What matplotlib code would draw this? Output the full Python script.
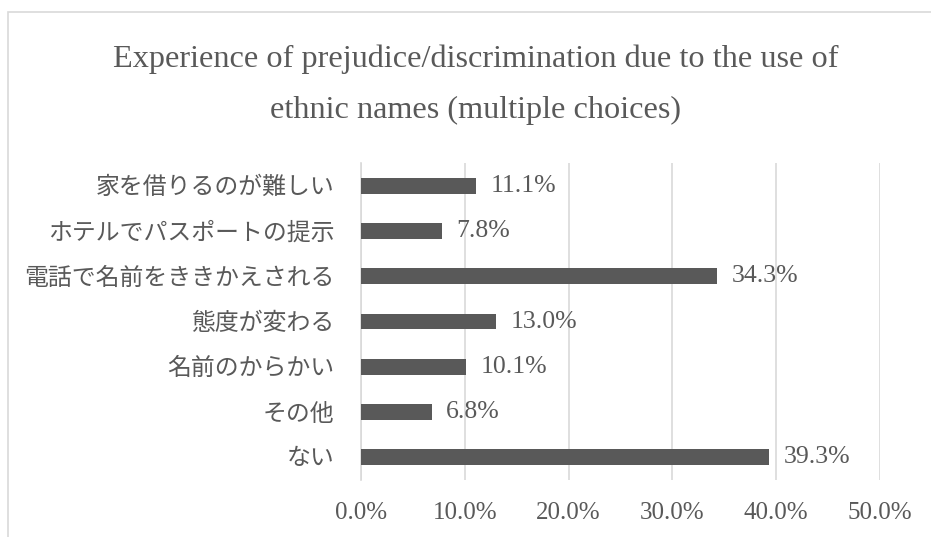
import matplotlib.pyplot as plt
from matplotlib.patches import Rectangle
from matplotlib.ticker import FuncFormatter

plt.rcParams['font.family'] = ['Liberation Serif', 'Noto Sans CJK JP']

# Data
categories = [
    "家を借りるのが難しい",
    "ホテルでパスポートの提示",
    "電話で名前をききかえされる",
    "態度が変わる",
    "名前のからかい",
    "その他",
    "ない",
]
values = [11.1, 7.8, 34.3, 13.0, 10.1, 6.8, 39.3]
title = "Experience of prejudice/discrimination due to the use of\nethnic names (multiple choices)"

TEXT = "#595959"
BAR = "#595959"
GRID = "#d9d9d9"

fig = plt.figure(figsize=(9.31, 5.37), dpi=100)

# chart frame (runs off the bottom/right edge like the source)
fig.patches.append(Rectangle((8 / 931, -0.1), 1.1, 1 - 12 / 537 + 0.1,
                             transform=fig.transFigure, fill=False,
                             edgecolor=GRID, linewidth=1.2))

ax = fig.add_axes([361 / 931, 1 - 480 / 537, (880 - 361) / 931, (480 - 163) / 537])

pos = list(range(len(categories)))
ax.barh(pos, values, height=0.35, color=BAR, zorder=3)

for p, v in zip(pos, values):
    ax.text(v + 1.4, p, f"{v:.1f}%", va="center", ha="left",
            fontsize=18.5, color=TEXT, zorder=4)

ax.set_xlim(0, 50)
ax.set_ylim(len(categories) - 0.5, -0.5)
ax.set_xticks([0, 10, 20, 30, 40, 50])
ax.xaxis.set_major_formatter(FuncFormatter(lambda x, _: f"{x:.1f}%"))
ax.set_yticks(pos)
ax.set_yticklabels(categories)

ax.grid(axis="x", color=GRID, linewidth=1.2, zorder=0)
for s in ["top", "right", "bottom"]:
    ax.spines[s].set_visible(False)
ax.spines["left"].set_color(GRID)
ax.spines["left"].set_linewidth(1.2)
ax.tick_params(axis="both", length=0, colors=TEXT)
ax.tick_params(axis="x", labelsize=18, pad=16)
ax.tick_params(axis="y", labelsize=17.2, pad=19)

fig.text(476 / 931, 1 - 85 / 537, title, ha="center", va="center",
         fontsize=23.2, color=TEXT, linespacing=1.97)

fig.savefig("out.png", dpi=100)
